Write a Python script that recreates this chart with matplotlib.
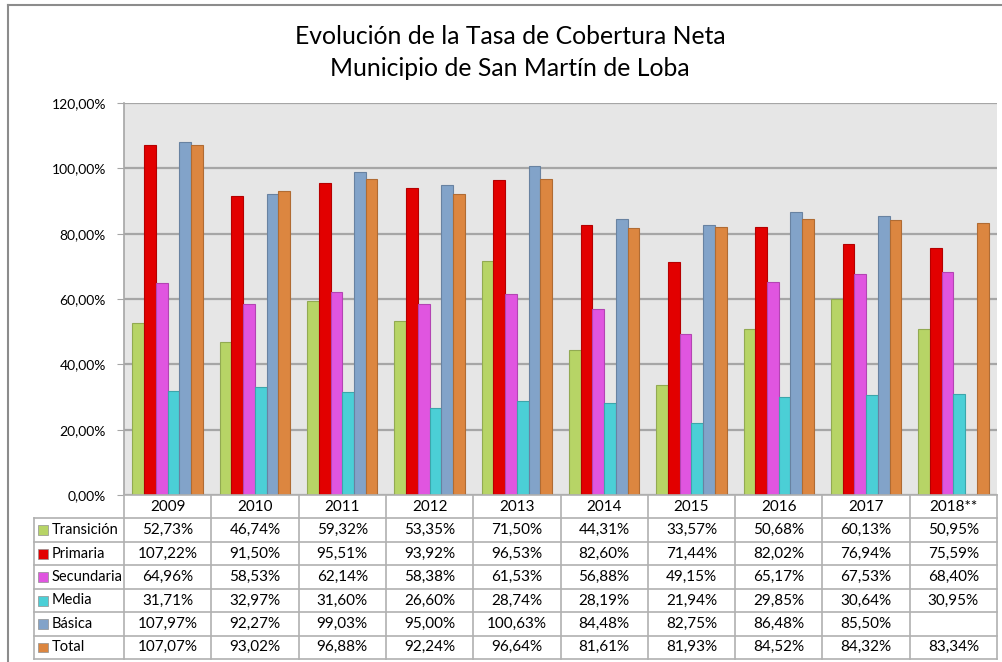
import numpy as np
import matplotlib.pyplot as plt
from matplotlib.lines import Line2D
from matplotlib.patches import Rectangle
import matplotlib.colors as mcolors

plt.rcParams['font.family'] = ['Lato', 'DejaVu Sans']

years = ["2009", "2010", "2011", "2012", "2013", "2014", "2015", "2016", "2017", "2018**"]
series = ["Transición", "Primaria", "Secundaria", "Media", "Básica", "Total"]

transicion = [52.73, 46.74, 59.32, 53.35, 71.50, 44.31, 33.57, 50.68, 60.13, 50.95]
primaria = [107.22, 91.50, 95.51, 93.92, 96.53, 82.60, 71.44, 82.02, 76.94, 75.59]
secundaria = [64.96, 58.53, 62.14, 58.38, 61.53, 56.88, 49.15, 65.17, 67.53, 68.40]
media = [31.71, 32.97, 31.60, 26.60, 28.74, 28.19, 21.94, 29.85, 30.64, 30.95]
basica = [107.97, 92.27, 99.03, 95.00, 100.63, 84.48, 82.75, 86.48, 85.50, np.nan]
total = [107.07, 93.02, 96.88, 92.24, 96.64, 81.61, 81.93, 84.52, 84.32, 83.34]

values = [transicion, primaria, secundaria, media, basica, total]
colors = ["#B7D466", "#E20000", "#E055E0", "#4BCFD6", "#82A3C9", "#DC8640"]

W, H = 1002, 662
fig = plt.figure(figsize=(W/100, H/100), dpi=100)

def fx(px):
    return px / W

def fy(py):
    return 1 - py / H

# main plot area
ax = fig.add_axes([fx(124), fy(495), fx(997) - fx(124), fy(103) - fy(495)])
ax.set_facecolor("#E6E6E6")
n = len(years)
x = np.arange(n)
gap = 1.43
bw = 1.0 / (len(series) + gap)
for i, (vals, c) in enumerate(zip(values, colors)):
    offs = (i - (len(series) - 1) / 2) * bw
    edge = tuple(v * 0.8 for v in mcolors.to_rgb(c))
    ax.bar(x + offs, vals, width=bw, color=c, edgecolor=edge, linewidth=0.8, zorder=3)

ax.set_xlim(-0.5, n - 0.5)
ax.set_ylim(0, 120)
ax.set_yticks(np.arange(0, 121, 20))
ax.set_yticklabels(["%d,00%%" % v for v in np.arange(0, 121, 20)], fontsize=10)
ax.yaxis.grid(True, color="#A6A6A6", linewidth=1.6, zorder=1)
ax.set_axisbelow(True)
ax.set_xticks([])
ax.tick_params(axis="y", length=5, color="#A6A6A6", pad=8)
for s in ["top", "right", "bottom"]:
    ax.spines[s].set_visible(False)
ax.spines["left"].set_color("#A6A6A6")
ax.spines["left"].set_linewidth(1.2)

# data table
tab = fig.add_axes([fx(124), fy(659), fx(997) - fx(124), fy(495) - fy(659)])
tab.set_xlim(-0.5, n - 0.5)
tab.set_ylim(7, 0)
tab.axis("off")
lab_left = -0.5 - (124 - 34) / ((997 - 124) / n)
lc = "#B0B0B0"
# horizontal lines
tab.plot([-0.5, n - 0.5], [0, 0], color=lc, lw=1.2, clip_on=False)
for r in range(1, 8):
    tab.plot([lab_left, n - 0.5], [r, r], color=lc, lw=1.2, clip_on=False)
# vertical lines
tab.plot([lab_left, lab_left], [1, 7], color=lc, lw=1.2, clip_on=False)
for k in range(n + 1):
    tab.plot([k - 0.5, k - 0.5], [0, 7], color=lc, lw=1.2, clip_on=False)

for k, yr in enumerate(years):
    tab.text(k, 0.5, yr, ha="center", va="center", fontsize=11)
for r, (name, vals, c) in enumerate(zip(series, values, colors)):
    yy = r + 1.5
    tab.add_patch(Rectangle((lab_left + 0.05, yy - 0.2), 0.11, 0.42, facecolor=c,
                            edgecolor="#909090", lw=0.5, clip_on=False))
    tab.text(lab_left + 0.2, yy, name, ha="left", va="center", fontsize=10.5)
    for k, v in enumerate(vals):
        if not np.isnan(v):
            txt = ("%.2f%%" % v).replace(".", ",")
            tab.text(k, yy, txt, ha="center", va="center", fontsize=11)

# title
fig.text(fx(510), fy(36), "Evolución de la Tasa de Cobertura Neta", ha="center", va="center", fontsize=17.8)
fig.text(fx(510), fy(69), "Municipio de San Martín de Loba", ha="center", va="center", fontsize=17.8)

# chart border
fig.add_artist(Line2D([fx(8), fx(1010)], [fy(5), fy(5)], color="#8C8C8C", lw=1.5))
fig.add_artist(Line2D([fx(8), fx(8)], [fy(5), fy(670)], color="#8C8C8C", lw=1.5))

fig.savefig("out.png", dpi=100)
